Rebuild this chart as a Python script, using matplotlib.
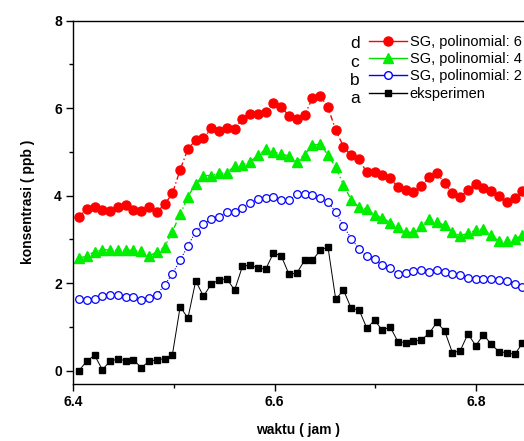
import numpy as np
import matplotlib.pyplot as plt
from matplotlib.lines import Line2D
from matplotlib.ticker import MultipleLocator

plt.rcParams['font.family'] = ['Liberation Sans', 'DejaVu Sans']

# time axis (jam)
X0 = 6.406
DX = 0.00772
N = 58
waktu = [X0 + i * DX for i in range(N)]

# a: eksperimen
eksperimen = [0.00, 0.22, 0.35, 0.02, 0.22, 0.26, 0.23, 0.24, 0.07, 0.21,
              0.25, 0.27, 0.36, 1.46, 1.20, 2.05, 1.70, 1.98, 2.07, 2.10,
              1.84, 2.38, 2.42, 2.34, 2.32, 2.69, 2.62, 2.20, 2.23, 2.52,
              2.52, 2.75, 2.83, 1.63, 1.84, 1.42, 1.39, 0.97, 1.15, 0.92,
              1.00, 0.66, 0.64, 0.67, 0.70, 0.85, 1.10, 0.91, 0.41, 0.45,
              0.84, 0.57, 0.82, 0.60, 0.43, 0.41, 0.37, 0.62]

# b: SG, polinomial 2
sg2 = [1.63, 1.62, 1.64, 1.71, 1.73, 1.72, 1.69, 1.68, 1.62, 1.67,
       1.73, 1.96, 2.21, 2.53, 2.85, 3.18, 3.35, 3.47, 3.52, 3.62,
       3.62, 3.72, 3.83, 3.92, 3.94, 3.97, 3.90, 3.90, 4.04, 4.04,
       4.02, 3.94, 3.86, 3.62, 3.30, 3.02, 2.78, 2.61, 2.55, 2.42,
       2.34, 2.21, 2.23, 2.27, 2.30, 2.25, 2.30, 2.25, 2.21, 2.19,
       2.12, 2.09, 2.09, 2.09, 2.07, 2.05, 1.99, 1.91]

# c: SG, polinomial 4
sg4 = [2.57, 2.62, 2.72, 2.76, 2.76, 2.75, 2.75, 2.75, 2.73, 2.62,
       2.71, 2.83, 3.18, 3.57, 3.98, 4.27, 4.46, 4.46, 4.51, 4.52,
       4.68, 4.71, 4.78, 4.92, 5.06, 4.99, 4.96, 4.90, 4.78, 4.94,
       5.15, 5.18, 4.93, 4.65, 4.25, 3.90, 3.73, 3.70, 3.56, 3.50,
       3.38, 3.29, 3.16, 3.16, 3.31, 3.46, 3.40, 3.32, 3.17, 3.08,
       3.14, 3.21, 3.24, 3.09, 2.96, 2.96, 3.01, 3.09]

# d: SG, polinomial 6
sg6 = [3.52, 3.70, 3.74, 3.68, 3.65, 3.74, 3.78, 3.67, 3.65, 3.73,
       3.63, 3.80, 4.05, 4.59, 5.07, 5.27, 5.31, 5.54, 5.47, 5.54,
       5.53, 5.75, 5.87, 5.87, 5.92, 6.11, 6.02, 5.83, 5.75, 5.84,
       6.23, 6.28, 6.02, 5.50, 5.12, 4.92, 4.83, 4.53, 4.53, 4.48,
       4.40, 4.20, 4.14, 4.09, 4.21, 4.42, 4.52, 4.29, 4.05, 3.98,
       4.12, 4.27, 4.18, 4.10, 3.99, 3.85, 3.94, 4.11]

labels = ['SG, polinomial: 6', 'SG, polinomial: 4', 'SG, polinomial: 2', 'eksperimen']
letters = ['d', 'c', 'b', 'a']


def main():
    fig = plt.figure(figsize=(5.24, 4.41), dpi=100)
    ax = fig.add_axes([73 / 524, 1 - 383.7 / 441, 1 - 73 / 524, (383.7 - 20.7) / 441])

    ax.plot(waktu, eksperimen, color='black', lw=0.7, ls='-',
            marker='s', ms=5, mfc='black', mec='black')
    ax.plot(waktu, sg2, color='blue', lw=0.8, ls=(0, (1, 1.5)),
            marker='o', ms=5.5, mfc='white', mec='blue', mew=0.9)
    ax.plot(waktu, sg4, color='#00e000', lw=1.0, ls=(0, (4, 2, 1, 2)),
            marker='^', ms=6.5, mfc='#00ee00', mec='#00ee00')
    ax.plot(waktu, sg6, color='red', lw=1.0, ls=(0, (4, 2, 1, 2)),
            marker='o', ms=6.5, mfc='red', mec='red')

    ax.set_xlim(6.4, 6.4 + (524 - 73) / 1007.5)
    ax.set_ylim(-0.3, 8)
    ax.xaxis.set_major_locator(MultipleLocator(0.2))
    ax.xaxis.set_minor_locator(MultipleLocator(0.1))
    ax.yaxis.set_major_locator(MultipleLocator(2))
    ax.yaxis.set_minor_locator(MultipleLocator(1))
    ax.xaxis.set_major_formatter(plt.FuncFormatter(lambda v, p: f'{v:.1f}'))
    ax.yaxis.set_major_formatter(plt.FuncFormatter(lambda v, p: f'{v:.0f}'))
    ax.tick_params(which='major', direction='out', length=5, width=1,
                   labelsize=10, pad=3, top=False, right=False)
    ax.tick_params(which='minor', direction='out', length=3, width=1,
                   top=False, right=False)
    for lab in ax.get_xticklabels() + ax.get_yticklabels():
        lab.set_fontweight('bold')
    ax.spines['right'].set_visible(False)
    for s in ['left', 'bottom', 'top']:
        ax.spines[s].set_linewidth(1.0)

    ax.set_xlabel('waktu ( jam )', fontsize=10, fontweight='bold', labelpad=10)
    ax.set_ylabel('konsentrasi ( ppb )', fontsize=10, fontweight='bold', labelpad=14)

    # legend with solid sample lines
    handles = [
        Line2D([], [], color='red', lw=1, marker='o', ms=6.5, mfc='red', mec='red'),
        Line2D([], [], color='#00e000', lw=1, marker='^', ms=6.5, mfc='#00ee00', mec='#00ee00'),
        Line2D([], [], color='blue', lw=1, marker='o', ms=5.5, mfc='white', mec='blue'),
        Line2D([], [], color='black', lw=1, marker='s', ms=5, mfc='black', mec='black'),
    ]
    ax.legend(handles, labels, loc='upper left', frameon=False,
              bbox_to_anchor=(369 / 524, 1 - 35 / 441), bbox_transform=fig.transFigure,
              fontsize=10.5, handlelength=2.6, handletextpad=0.2, labelspacing=0.22,
              borderpad=0, borderaxespad=0)
    for k, let in enumerate(letters):
        fig.text(355 / 524, 1 - (44 + k * 18.2) / 441, let, fontsize=12.5,
                 ha='center', va='center')

    fig.savefig('out.png', dpi=100)


if __name__ == '__main__':
    main()
